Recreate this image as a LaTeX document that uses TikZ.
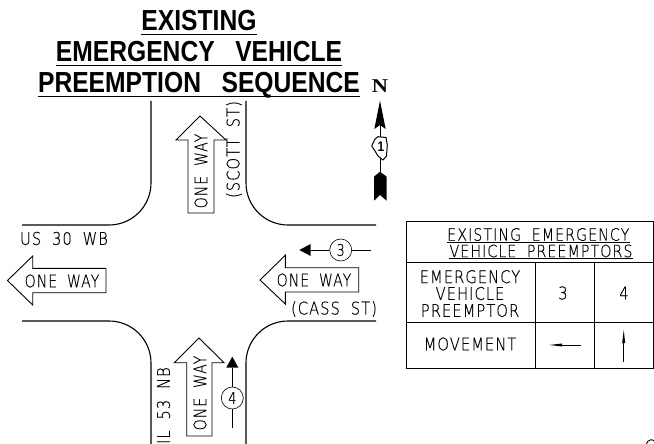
\documentclass[tikz,border=0pt]{standalone}
\usepackage{fontspec}
\setmainfont{Liberation Sans}
\newfontfamily\titleFont[FakeStretch=0.85,WordSpace=3]{Liberation Sans}
\newfontfamily\cadFont[FakeStretch=0.8,FakeBold=0.3,LetterSpace=6,WordSpace=1.8]{DejaVu Sans ExtraLight}
\newfontfamily\cadWideFont[FakeStretch=0.84,FakeBold=0.3,LetterSpace=6,WordSpace=1.9]{DejaVu Sans ExtraLight}
\newfontfamily\northFont[FakeStretch=1.15]{Liberation Serif}
\tikzset{
	titleText/.style={inner sep=0pt, anchor=base, text depth=3.5pt, font=\titleFont\bfseries\fontsize{29}{29}\selectfont},
	cadText/.style={inner sep=0pt, font=\cadWideFont\fontsize{17.5}{17}\selectfont},
	wayText/.style={inner sep=0pt, font=\cadFont\fontsize{17.5}{17}\selectfont},
	headText/.style={inner sep=0pt, anchor=base, text depth=1pt, font=\cadWideFont\fontsize{17}{17}\selectfont},
	roadEdge/.style={line width=1.1pt, rounded corners=42pt},
	signArrow/.style={line width=0.9pt, line join=miter},
	detector/.style={circle, draw, line width=0.6pt, minimum size=22pt, inner sep=0pt, font=\cadFont\fontsize{16}{16}\selectfont},
	tableLine/.style={line width=0.8pt},
}
\begin{document}
\begin{tikzpicture}[x=1pt, y=-1pt]
	\useasboundingbox (0,0) rectangle (654,444);

	% title
	\node[titleText](titleOne) at (199,31){EXISTING};
	\node[titleText](titleTwo) at (199,61.5){EMERGENCY VEHICLE};
	\node[titleText](titleThree) at (199,92.5){PREEMPTION SEQUENCE};
	\draw[line width=1.1pt] (titleOne.south west) -- (titleOne.south east);
	\draw[line width=1.1pt] (titleTwo.south west) -- (titleTwo.south east);
	\draw[line width=1.1pt] (titleThree.south west) -- (titleThree.south east);

	% draw road edges
	\draw[roadEdge] (22,225) -- (151,225) -- (151,101);
	\draw[roadEdge] (376,225) -- (246,225) -- (246,101);
	\draw[roadEdge] (22,321) -- (151,321) -- (151,444);
	\draw[roadEdge] (376,321) -- (246,321) -- (246,444);

	% draw one way arrows
	\draw[signArrow] (200,116) -- (226,140) -- (214,140) -- (214,213) -- (188,213) -- (188,140) -- (176,140) -- cycle;
	\draw[signArrow] (7.5,280.5) -- (32.7,256) -- (32.7,268.3) -- (106,268.3) -- (106,292.7) -- (32.7,292.7) -- (32.7,305) -- cycle;
	\draw[signArrow] (260,280) -- (285.3,255.3) -- (285.3,267.7) -- (358.7,267.7) -- (358.7,292) -- (285.3,292) -- (285.3,304) -- cycle;
	\draw[signArrow] (199,338) -- (224,362.7) -- (212,362.7) -- (212,436) -- (186.7,436) -- (186.7,362.7) -- (174.3,362.7) -- cycle;
	\node[wayText, rotate=90](wayUpTop) at (201,171){ONE WAY};
	\node[wayText](wayLeft) at (62,281){ONE WAY};
	\node[wayText](wayRight) at (314,280){ONE WAY};
	\node[wayText, rotate=90](wayUpBottom) at (200,393){ONE WAY};

	% street names
	\node[cadText](usThirty) at (64,238.5){US 30 WB};
	\node[cadText](cassSt) at (334,309){(CASS ST)};
	\node[cadText, rotate=90](scottSt) at (234,149.5){(SCOTT ST)};
	\node[cadText, rotate=90, anchor=east](ilFiftyThree) at (163.5,367){IL 53 NB};

	% draw preemptors
	\node[detector](detThree) at (340.7,250){3};
	\node[detector](detFour) at (232.3,398){4};
	\coordinate (threeTip) at (299.3,250);
	\coordinate (threeEnd) at (370.7,250);
	\coordinate (fourTip) at (232.3,356.7);
	\coordinate (fourEnd) at (232.3,428);
	\draw[line width=0.6pt] (threeEnd) -- (detThree);
	\draw[line width=0.6pt] (fourEnd) -- (detFour);
	\fill (threeTip) -- (310.7,244) -- (310.7,256) -- cycle;
	\fill (fourTip) -- (226.3,367.5) -- (238.3,367.5) -- cycle;
	\draw[line width=0.6pt] (detThree) -- (310.7,250);
	\draw[line width=0.6pt] (detFour) -- (232.3,367.5);

	% north arrow
	\node[inner sep=0pt, font=\northFont\bfseries\fontsize{19.5}{20}\selectfont](north) at (380,86){N};
	\fill (380,100.7) -- (385.7,129) -- (380,125) -- (374.3,129) -- cycle;
	\draw[line width=1pt] (380,125) -- (380,172);
	\draw[fill=white, line width=1pt] (375,139) -- (378,136.7) -- (386,137.5) -- (387.3,145) -- (386.5,156) -- (383,160) -- (378,156) -- (375,151) -- (371.7,146) -- cycle;
	\node[inner sep=0pt, font=\titleFont\bfseries\fontsize{14}{14}\selectfont](shieldNum) at (381,147){1};
	\fill (380,171.7) -- (386.7,176.7) -- (386.7,200.7) -- (380,195) -- (374,200.7) -- (374,176.7) -- cycle;

	% preemptor table
	\node[headText](headOne) at (538.3,240.7){EXISTING EMERGENCY};
	\node[headText](headTwo) at (541,257.2){VEHICLE PREEMPTORS};
	\draw[tableLine] (headOne.south west) -- (headOne.south east);
	\draw[tableLine] (headTwo.south west) -- (headTwo.south east);
	\draw[tableLine] (406,221.7) rectangle (653.3,368.7);
	\draw[tableLine] (406,262.3) -- (653.3,262.3);
	\draw[tableLine] (406,322.7) -- (653.3,322.7);
	\draw[tableLine] (535.3,262.3) -- (535.3,368.7);
	\draw[tableLine] (594.3,262.3) -- (594.3,368.7);
	\node[cadText](rowEmergency) at (470,276.7){EMERGENCY};
	\node[cadText](rowVehicle) at (470,293.5){VEHICLE};
	\node[cadText](rowPreemptor) at (470,310.5){PREEMPTOR};
	\node[cadText](rowMovement) at (470,344){MOVEMENT};
	\node[cadText](cellThree) at (563,293){3};
	\node[cadText](cellFour) at (624,293){4};
	\coordinate (moveThreeEnd) at (580.7,345);
	\coordinate (moveThreeTip) at (549.3,345);
	\coordinate (moveFourEnd) at (623.7,361.7);
	\coordinate (moveFourTip) at (623.7,330);
	\draw[line width=0.7pt] (moveThreeEnd) -- (560,345);
	\fill (moveThreeTip) -- (562,343.5) -- (562,346.5) -- cycle;
	\draw[line width=0.7pt] (moveFourEnd) -- (623.7,342);
	\fill (moveFourTip) -- (622.2,343) -- (625.2,343) -- cycle;

	% clipped text at the sheet edge
	\node[cadText](sheetMark) at (650,446){C};
\end{tikzpicture}
\end{document}
